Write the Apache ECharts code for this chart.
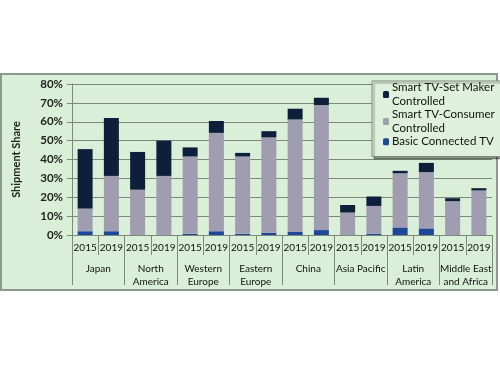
<!DOCTYPE html>
<html><head><meta charset="utf-8">
<script src="https://cdn.jsdelivr.net/npm/echarts@6/dist/echarts.min.js"></script>
<style>html,body{margin:0;padding:0;background:#fff}#c{width:500px;height:375px}</style>
</head><body><div id="c"></div>
<script>
const years = ["2015","2019","2015","2019","2015","2019","2015","2019","2015","2019","2015","2019","2015","2019","2015","2019"];
const regions = ["Japan","North\nAmerica","Western\nEurope","Eastern\nEurope","China","Asia Pacific","Latin\nAmerica","Middle East\nand Africa"];
const basicConnected = [2, 2, 0, 0, 0.6, 2, 0.6, 1.2, 1.6, 2.6, 0, 0.6, 4, 3.5, 0, 0];
const smartConsumer = [12, 29.3, 24, 31.3, 41, 52.1, 41, 50.5, 59.6, 66.2, 11.9, 14.8, 28.7, 29.8, 17.9, 23.6];
const smartSetMaker = [31.5, 30.7, 20, 18.7, 4.8, 6.3, 1.9, 3.3, 5.7, 3.9, 4, 5, 1.3, 4.9, 1.6, 1.2];
const yTicks = [0, 10, 20, 30, 40, 50, 60, 70, 80];

const names = ["Smart TV-Set Maker Controlled","Smart TV-Consumer Controlled","Basic Connected TV"];
const font = "Lato, 'Liberation Sans', sans-serif";
const chart = echarts.init(document.getElementById('c'), null, {renderer:'canvas'});
chart.setOption({
  animation:false,
  backgroundColor:'#ffffff',
  graphic:[{type:'rect', z:-10, shape:{x:1,y:74,width:496,height:216}, style:{fill:'#d9efd7', stroke:'#8c9a8c', lineWidth:2}}],
  legend:{
    orient:'vertical', left:372, top:81, width:118,
    data:names, itemWidth:6, itemHeight:7, itemGap:0,
    backgroundColor:'#dff1dc', borderColor:'#7d8a7d', borderWidth:1,
    padding:[0,6,8,11],
    shadowColor:'rgba(0,0,0,0.35)', shadowOffsetX:2, shadowOffsetY:2, shadowBlur:1,
    formatter:function(n){ return n.replace(' Controlled','\nControlled'); },
    textStyle:{fontFamily:font, fontSize:11.5, color:'#111', lineHeight:13.5, padding:[0,0,0,-2]}
  },
  grid:{left:72, right:8, top:84, bottom:140},
  yAxis:{
    type:'value', min:0, max:80, interval:10,
    name:'Shipment Share', nameLocation:'middle', nameGap:50,
    nameTextStyle:{fontFamily:font, fontSize:11, fontWeight:'bold', color:'#222'},
    axisLine:{show:true, lineStyle:{color:'#7b887b', width:1}},
    axisTick:{show:true, length:5, lineStyle:{color:'#7b887b'}},
    splitLine:{lineStyle:{color:'#7b887b', width:1}},
    axisLabel:{formatter:function(v){return v+'%';}, fontFamily:font, fontSize:11.5, fontWeight:'bold', color:'#222', margin:9,
      customValues: yTicks}
  },
  xAxis:[
    {type:'category', data:years, position:'bottom',
      axisLine:{lineStyle:{color:'#7b887b'}},
      axisTick:{show:true, interval:0, length:20, lineStyle:{color:'#7b887b'}},
      axisLabel:{interval:0, fontFamily:font, fontSize:10, color:'#111', margin:8}},
    {type:'category', data:regions, position:'bottom',
      axisLine:{show:false},
      axisTick:{show:true, interval:0, length:50, lineStyle:{color:'#7b887b'}},
      axisLabel:{interval:0, fontFamily:font, fontSize:10, color:'#111', margin:27, lineHeight:13}}
  ],
  series:[
    {name:names[2], type:'bar', stack:'s', xAxisIndex:0, data:basicConnected, barWidth:15, itemStyle:{color:'#1d4799'}},
    {name:names[1], type:'bar', stack:'s', xAxisIndex:0, data:smartConsumer, barWidth:15, itemStyle:{color:'#a19db0'}},
    {name:names[0], type:'bar', stack:'s', xAxisIndex:0, data:smartSetMaker, barWidth:15, itemStyle:{color:'#0e1f3b'}}
  ]
});
</script></body></html>
